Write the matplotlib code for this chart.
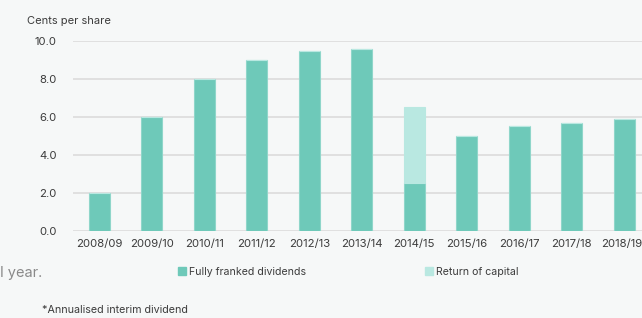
import matplotlib
matplotlib.use("Agg")
from matplotlib import pyplot as plt
from matplotlib.patches import Patch
import numpy as np

years = ["2008/09", "2009/10", "2010/11", "2011/12", "2012/13", "2013/14",
         "2014/15", "2015/16", "2016/17", "2017/18", "2018/19*"]
franked = [2.0, 6.0, 8.0, 9.0, 9.5, 9.6, 2.5, 5.0, 5.5, 5.7, 5.9]
capital = [0, 0, 0, 0, 0, 0, 4.0, 0, 0, 0, 0]
yticks = [0.0, 2.0, 4.0, 6.0, 8.0, 10.0]

bg = "#f6f8f8"
dark = "#6ec9b9"
light = "#b9e8e1"
txt = "#3c3c3c"

plt.rcParams["font.family"] = ["Inter", "DejaVu Sans"]

fig = plt.figure(figsize=(6.42, 3.18), dpi=100, facecolor=bg)
ax = fig.add_axes([0.114, 0.274, 0.886, 0.597], facecolor=bg)

x = np.arange(len(years))
ax.bar(x, franked, width=0.4, color=dark, edgecolor="#8fd6ca", linewidth=0.8, zorder=3)
ax.bar(x, capital, bottom=franked, width=0.4, color=light, edgecolor=light, linewidth=0.8, zorder=3)

ax.set_xlim(-0.5, 10.34)
ax.set_ylim(0, 10)
ax.set_yticks(yticks)
ax.set_yticklabels([f"{v:.1f}" for v in yticks])
ax.set_xticks(x)
ax.set_xticklabels(years)
ax.tick_params(axis="both", length=0, labelsize=8.2, colors=txt)
ax.tick_params(axis="y", pad=12)
ax.tick_params(axis="x", pad=6)
ax.grid(axis="y", color="#dcdcdc", linewidth=1.2, zorder=0)
for s in ax.spines.values():
    s.set_visible(False)

fig.text(0.042, 0.935, "Cents per share", fontsize=8.0, color=txt, va="center")
fig.text(-0.012, 0.14, "al year.", fontsize=10.5, color="#8a8a8a", va="center")
fig.text(0.065, 0.025, "*Annualised interim dividend", fontsize=7.7, color=txt, va="center")

handles = [Patch(color=dark), Patch(color=light)]
fig.legend(handles, ["Fully franked dividends", "Return of capital"],
           loc="center left", bbox_to_anchor=(0.262, 0.146), ncol=2,
           frameon=False, fontsize=7.6, labelcolor=txt,
           handlelength=0.75, handleheight=0.75, handletextpad=0.3, columnspacing=11.3)

fig.savefig("out.png", dpi=100, facecolor=bg)
